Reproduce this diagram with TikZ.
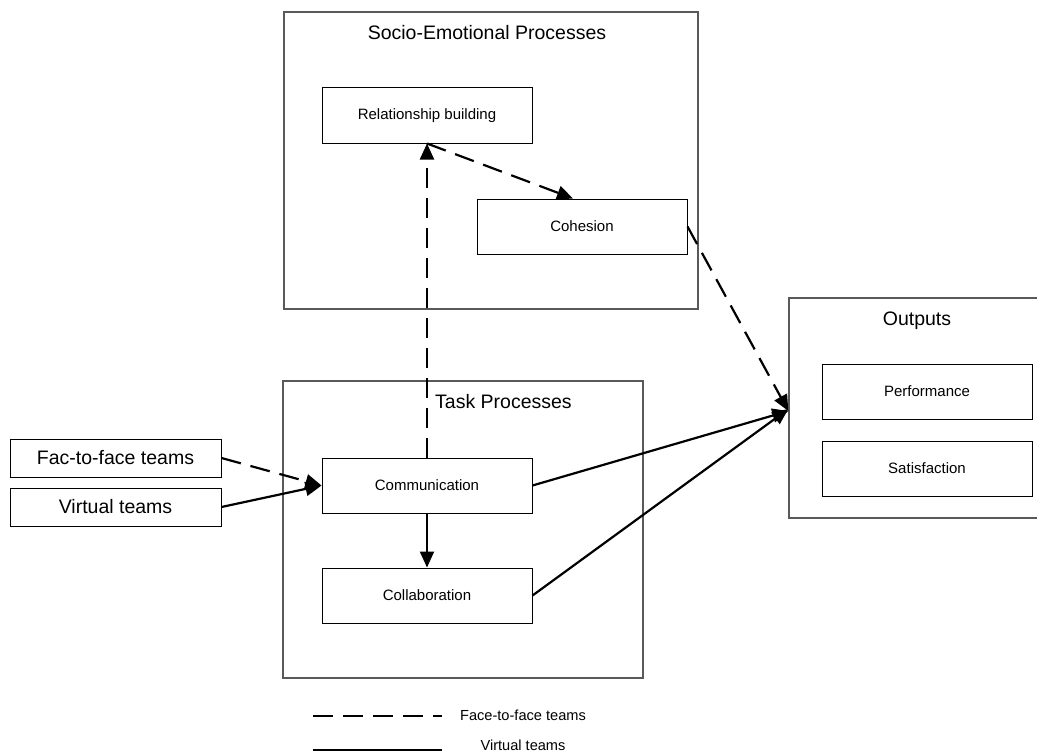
\documentclass[tikz,border=0pt]{standalone}
\usepackage{fontspec}
\setmainfont{Liberation Sans}
\usetikzlibrary{arrows.meta}
\begin{document}
\begin{tikzpicture}[x=1pt,y=-1pt,
 bigbox/.style={draw=black!65, line width=1.3pt, inner sep=0pt},
 smallbox/.style={draw=black, line width=1pt, fill=white, minimum width=210pt, minimum height=55pt, inner sep=0pt, font=\fontsize{15}{18}\selectfont},
 inbox/.style={draw=black, line width=1pt, fill=white, minimum width=211pt, minimum height=38pt, inner sep=0pt, font=\fontsize{19.5}{23}\selectfont},
 ttl/.style={font=\fontsize{19.5}{23}\selectfont, inner sep=0pt},
 lgd/.style={font=\fontsize{14.6}{17}\selectfont, inner sep=0pt},
 conn/.style={line width=2.2pt, -{Triangle[length=16pt,width=14pt]}},
 dsh/.style={dash pattern=on 20pt off 10pt},
]
\useasboundingbox (0,0) rectangle (1037,752);
% big boxes
\node[bigbox, minimum width=414pt, minimum height=297pt] (socio) at (491,160.5) {};
\node[bigbox, minimum width=360pt, minimum height=297pt] (task) at (463,529.5) {};
\node[bigbox, minimum width=262pt, minimum height=220pt] (out) at (920,408) {};
% titles
\node[ttl] (sociot) at (487,33) {Socio-Emotional Processes};
\node[ttl, anchor=west] (taskt) at (435,402) {Task Processes};
\node[ttl] (outt) at (917,321) {Outputs};
% inner boxes
\node[smallbox] (rel) at (427,115.5) {Relationship building};
\node[smallbox] (coh) at (582,226.5) {Cohesion};
\node[smallbox] (comm) at (427,485.5) {Communication};
\node[smallbox] (coll) at (427,595.5) {Collaboration};
\node[smallbox] (perf) at (927,391.5) {Performance};
\node[smallbox] (sat) at (927,468.5) {Satisfaction};
% input boxes
\node[inbox] (fac) at (115.5,458) {Fac-to-face teams};
\node[inbox] (virt) at (115.5,507) {Virtual teams};
% connectors
\draw[conn, dsh] (fac.east) -- (comm.west);
\draw[conn] (virt.east) -- (comm.west);
\draw[conn, dsh] (comm.north) -- (rel.south);
\draw[conn, dsh] (rel.south) -- ([xshift=-9pt]coh.north);
\draw[conn] (comm.south) -- (coll.north);
\draw[conn, dsh] (coh.east) -- ([yshift=-3pt]out.west);
\draw[conn] (comm.east) -- ([yshift=-3pt]out.west);
\draw[conn] (coll.east) -- ([yshift=-1pt]out.west);
% legend
\coordinate (l1a) at (313,716);
\coordinate (l1b) at (442,716);
\coordinate (l2a) at (313,750);
\coordinate (l2b) at (442,750);
\draw[line width=2.2pt, dsh] (l1a) -- (l1b);
\draw[line width=2.2pt] (l2a) -- (l2b);
\node[lgd] (lg1) at (523,715) {Face-to-face teams};
\node[lgd] (lg2) at (523,745) {Virtual teams};
\end{tikzpicture}
\end{document}
